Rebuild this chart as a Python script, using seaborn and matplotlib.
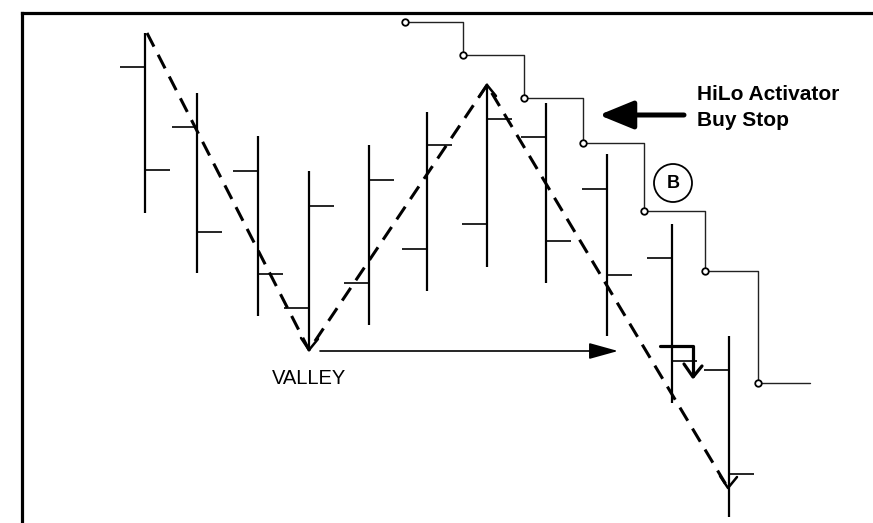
import matplotlib
matplotlib.use("Agg")
import matplotlib.pyplot as plt
import seaborn as sns
import pandas as pd
from matplotlib.patches import Circle

# bar positions and prices (screen-style scale, larger = lower on chart)
bar_x = [145, 197, 258, 309, 369, 427, 487, 546, 607, 672, 729]
highs = [33, 93, 136, 171, 145, 112, 85, 103, 154, 224, 336]
lows = [213, 273, 316, 350, 325, 291, 267, 283, 336, 403, 517]
opens = [67, 127, 171, 308, 283, 249, 224, 137, 189, 258, 370]
closes = [170, 232, 274, 206, 180, 145, 119, 241, 275, 361, 474]

# swing points of the dashed zigzag
swing_x = [147, 309, 487, 728]
swing_y = [33, 350, 85, 488]

# HiLo activator buy stop levels
stop_x = [405, 463, 524, 583, 644, 705, 758]
stop_y = [22, 55, 98, 143, 211, 271, 383]
stop_end = 810

sns.set_style("white")
plt.rcParams["font.family"] = ["Liberation Sans", "DejaVu Sans"]
plt.rcParams["text.color"] = "black"

fig = plt.figure(figsize=(8.73, 5.23), dpi=100)
ax = fig.add_axes([22 / 873, 0, 1 - 22 / 873, 1 - 12.5 / 523])
ax.set_xlim(22, 873)
ax.set_ylim(523, 12.5)
ax.set_xticks([])
ax.set_yticks([])
for s in ["right", "bottom"]:
    ax.spines[s].set_visible(False)
for s in ["left", "top"]:
    ax.spines[s].set_linewidth(2.3)
    ax.spines[s].set_color("black")

# OHLC bars
tick = 25
ax.vlines(bar_x, highs, lows, color="black", lw=1.6)
ax.hlines(opens, [x - tick for x in bar_x], bar_x, color="black", lw=1.2)
ax.hlines(closes, bar_x, [x + tick for x in bar_x], color="black", lw=1.2)

# dashed zigzag
zz = pd.DataFrame({"x": swing_x, "y": swing_y})
sns.lineplot(data=zz, x="x", y="y", sort=False, estimator=None, ax=ax,
             color="black", lw=2.2, linestyle=(0, (5, 3)))
# chevrons at the swing ends
for i, (x, y) in enumerate(zip(swing_x[1:], swing_y[1:])):
    d = 1 if i % 2 == 0 else -1
    ax.plot([x - 8, x, x + 9], [y - 12 * d, y, y - 11 * d], color="black", lw=1.8)

# HiLo stair line
st = pd.DataFrame({"x": stop_x + [stop_end], "y": stop_y + [stop_y[-1]]})
sns.lineplot(data=st, x="x", y="y", sort=False, estimator=None, ax=ax,
             color="#222222", lw=1.0, drawstyle="steps-post")
sns.scatterplot(x=stop_x, y=stop_y, ax=ax, s=22, facecolor="white",
                edgecolor="black", linewidth=1.3, zorder=5)

# valley arrow
ax.annotate("", xy=(618, 351), xytext=(320, 351),
            arrowprops=dict(arrowstyle="-|>,head_length=18,head_width=5",
                            mutation_scale=1, lw=1.2, color="black", shrinkA=0, shrinkB=0))
ax.text(309.5, 378, "VALLEY", ha="center", va="center", fontsize=14.5)

# big arrow pointing at the stop line
ax.annotate("", xy=(599, 115), xytext=(684, 115),
            arrowprops=dict(arrowstyle="-|>,head_length=21,head_width=8.6",
                            mutation_scale=1, lw=3.6, color="black", shrinkA=0, shrinkB=0))
ax.text(697, 95, "HiLo Activator", ha="left", va="center", fontsize=15, fontweight="bold")
ax.text(697, 121, "Buy Stop", ha="left", va="center", fontsize=15, fontweight="bold")

# buy marker
ax.add_patch(Circle((673, 183), 19, fill=False, ec="black", lw=1.3))
ax.text(673, 184, "B", ha="center", va="center", fontsize=13, fontweight="bold")

# bent entry arrow
ax.plot([660, 693, 693], [346, 346, 376], color="black", lw=2.3)
ax.plot([684, 693, 702], [364, 377, 366], color="black", lw=2.3)

fig.savefig("out.png", dpi=100)
